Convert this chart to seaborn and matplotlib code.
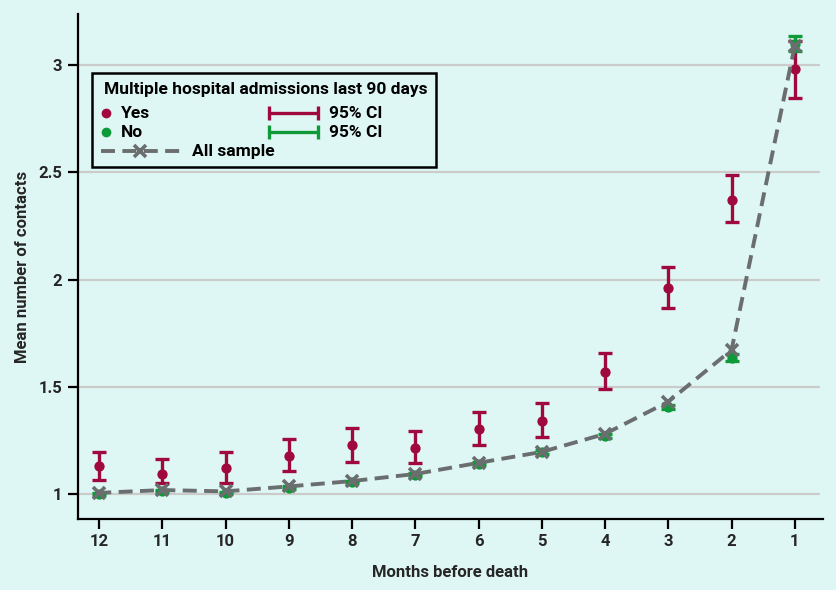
import matplotlib
matplotlib.use("Agg")
import matplotlib.pyplot as plt
import numpy as np
import pandas as pd
import seaborn as sns
from matplotlib.lines import Line2D
from matplotlib.offsetbox import AnchoredOffsetbox, DrawingArea, HPacker, TextArea, VPacker

# values
months = [12, 11, 10, 9, 8, 7, 6, 5, 4, 3, 2, 1]
yes_mean = [1.13, 1.093, 1.12, 1.177, 1.228, 1.214, 1.303, 1.34, 1.569, 1.96, 2.371, 2.98]
yes_lo = [1.065, 1.05, 1.05, 1.107, 1.149, 1.145, 1.228, 1.266, 1.49, 1.867, 2.268, 2.846]
yes_hi = [1.196, 1.163, 1.196, 1.256, 1.308, 1.294, 1.382, 1.424, 1.657, 2.058, 2.487, 3.11]
no_mean = [1.0, 1.015, 1.005, 1.03, 1.055, 1.09, 1.14, 1.195, 1.27, 1.405, 1.635, 3.10]
no_lo = [0.995, 1.01, 1.0, 1.025, 1.05, 1.083, 1.133, 1.187, 1.261, 1.395, 1.618, 3.065]
no_hi = [1.005, 1.02, 1.01, 1.035, 1.06, 1.097, 1.147, 1.203, 1.279, 1.415, 1.652, 3.135]
all_mean = [1.005, 1.018, 1.012, 1.035, 1.06, 1.093, 1.145, 1.196, 1.28, 1.43, 1.671, 3.09]
y_ticks = [1, 1.5, 2, 2.5, 3]
y_tick_labels = ["1", "1.5", "2", "2.5", "3"]

BG = "#dff7f4"
RED = "#a0093d"
GREEN = "#0f9a3a"
GREY = "#6b6e6f"
DASH = (0, (3.6, 1.9))

sns.set_theme(style="white")
plt.rcParams["font.family"] = ["Roboto", "DejaVu Sans"]
plt.rcParams["font.weight"] = "bold"

df = pd.DataFrame({"month": months, "yes": yes_mean, "no": no_mean, "all": all_mean})

fig = plt.figure(figsize=(8.37, 5.90), dpi=100, facecolor=BG)
ax = fig.add_axes([0.0926, 0.1203, 0.8904, 0.8559])
ax.set_facecolor(BG)

for t in y_ticks:
    ax.axhline(t, color="#cbcbcb", lw=1.6, zorder=0, xmax=0.995)

# Yes group
ax.errorbar(df["month"], df["yes"],
            yerr=[np.array(yes_mean) - np.array(yes_lo), np.array(yes_hi) - np.array(yes_mean)],
            fmt="none", ecolor=RED, elinewidth=2.4, capsize=4.8, capthick=2.4, zorder=2)
sns.scatterplot(data=df, x="month", y="yes", color=RED, s=55, edgecolor=RED, linewidth=0,
                ax=ax, zorder=3)

# No group
ax.errorbar(df["month"], df["no"],
            yerr=[np.array(no_mean) - np.array(no_lo), np.array(no_hi) - np.array(no_mean)],
            fmt="none", ecolor=GREEN, elinewidth=2.4, capsize=4.8, capthick=2.4, zorder=2)
sns.scatterplot(data=df, x="month", y="no", color=GREEN, s=55, edgecolor=GREEN, linewidth=0,
                ax=ax, zorder=3)

# All sample
sns.lineplot(data=df, x="month", y="all", color=GREY, lw=2.8, dashes=False, ax=ax, zorder=4,
             marker="x", markersize=8, markeredgewidth=2.6, markeredgecolor=GREY)
ax.lines[-1].set_linestyle(DASH)

ax.set_xlim(12.34, 0.557)
ax.set_ylim(0.883, 3.238)
ax.set_xticks(months)
ax.set_xticklabels([str(m) for m in months])
ax.set_yticks(y_ticks)
ax.set_yticklabels(y_tick_labels)
ax.tick_params(axis="both", direction="out", length=7, width=1.6, color="black",
               labelsize=12, pad=4, left=True, bottom=True)
for lab in ax.get_xticklabels() + ax.get_yticklabels():
    lab.set_fontweight("bold")

for side in ["top", "right"]:
    ax.spines[side].set_visible(False)
for side in ["left", "bottom"]:
    ax.spines[side].set_color("black")
    ax.spines[side].set_linewidth(1.6)

ax.set_xlabel("Months before death", fontsize=12, fontweight="bold", labelpad=11)
ax.set_ylabel("Mean number of contacts", fontsize=12, fontweight="bold", labelpad=6)

# legend built from packed boxes so each key can have its own width
txt = dict(fontsize=12.5, fontweight="bold", color="black")


def dot_key(color):
    da = DrawingArea(6.4, 10, 0, 0)
    da.add_artist(Line2D([3.6], [5], ls="none", marker="o", ms=6, color=color))
    return da


def ci_key(color):
    da = DrawingArea(35, 10, 0, 0)
    da.add_artist(Line2D([0, 35], [5, 5], color=color, lw=2.4, solid_capstyle="butt"))
    da.add_artist(Line2D([0, 35], [5, 5], ls="none", marker="|", ms=9.4, mew=2.4, color=color))
    return da


def all_key():
    da = DrawingArea(58, 10, 0, 0)
    da.add_artist(Line2D([0, 57], [5, 5], color=GREY, lw=2.8, ls=DASH))
    da.add_artist(Line2D([28.5], [5], ls="none", marker="x", ms=8, mew=2.6, color=GREY))
    return da


col_a = VPacker(children=[
    HPacker(children=[dot_key(RED), TextArea("Yes", textprops=txt)], sep=8, align="center"),
    HPacker(children=[dot_key(GREEN), TextArea("No", textprops=txt)], sep=8, align="center"),
], sep=2.8, align="left")
col_b = VPacker(children=[
    HPacker(children=[ci_key(RED), TextArea("95% CI", textprops=txt)], sep=8, align="center"),
    HPacker(children=[ci_key(GREEN), TextArea("95% CI", textprops=txt)], sep=8, align="center"),
], sep=2.8, align="left")
upper = HPacker(children=[col_a, col_b], sep=86, align="top")
row_all = HPacker(children=[all_key(), TextArea("All sample", textprops=txt)], sep=8, align="center")
title = HPacker(children=[DrawingArea(2.2, 1, 0, 0),
                          TextArea("Multiple hospital admissions last 90 days", textprops=txt)],
                sep=0, align="center")
body = VPacker(children=[upper, row_all], sep=2.8, align="left")
legend_box = VPacker(children=[title, body], sep=6.5, align="left")

anch = AnchoredOffsetbox(loc="upper left", child=legend_box, pad=0.5, borderpad=0,
                         bbox_to_anchor=(0.0195, 0.883), bbox_transform=ax.transAxes,
                         frameon=True, prop=dict(size=12.5))
anch.patch.set_edgecolor("black")
anch.patch.set_facecolor(BG)
anch.patch.set_linewidth(1.8)
anch.set_zorder(6)
ax.add_artist(anch)

fig.savefig("out.png", dpi=100, facecolor=BG)
